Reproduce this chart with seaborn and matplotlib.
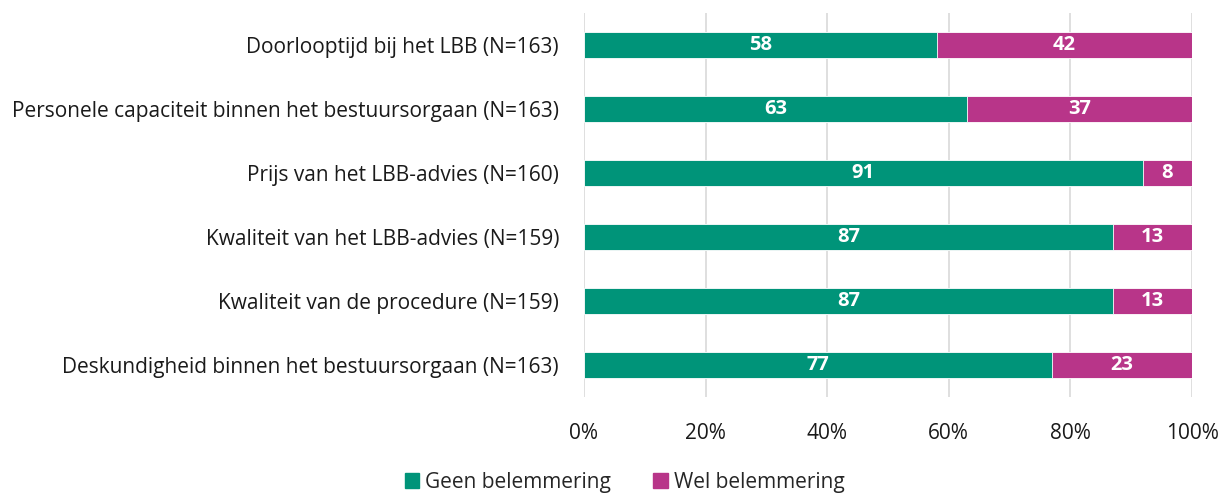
import pandas as pd
import seaborn as sns
import matplotlib.pyplot as plt
from matplotlib.patches import Patch

# data
categories = [
    "Doorlooptijd bij het LBB (N=163)",
    "Personele capaciteit binnen het bestuursorgaan (N=163)",
    "Prijs van het LBB-advies (N=160)",
    "Kwaliteit van het LBB-advies (N=159)",
    "Kwaliteit van de procedure (N=159)",
    "Deskundigheid binnen het bestuursorgaan (N=163)",
]
geen = [58, 63, 91, 87, 87, 77]
wel = [42, 37, 8, 13, 13, 23]
series_names = ["Geen belemmering", "Wel belemmering"]

green = "#009479"
magenta = "#B83589"

df = pd.DataFrame({"categorie": categories, "geen": geen, "wel": wel})
# 100% stacked: share of the row total
df["totaal"] = df["geen"] + df["wel"]
df["geen_pct"] = df["geen"] / df["totaal"] * 100
df["cum_pct"] = 100.0

sns.set_style("white")
plt.rcParams["font.family"] = ["Open Sans", "DejaVu Sans"]

fig = plt.figure(figsize=(12.2, 4.94), dpi=100)
ax = fig.add_axes([584 / 1220, 1 - 397 / 494, 608 / 1220, 384 / 494])

sns.barplot(data=df, x="cum_pct", y="categorie", orient="h", color=magenta,
            width=0.4, saturation=1, ax=ax, zorder=3)
sns.barplot(data=df, x="geen_pct", y="categorie", orient="h", color=green,
            width=0.4, saturation=1, ax=ax, zorder=3)

for bar in ax.patches:
    bar.set_edgecolor("white")
    bar.set_linewidth(0.6)

# value labels
for i in range(len(df)):
    g = df["geen_pct"][i]
    ax.text(g / 2, i, str(df["geen"][i]), ha="center", va="center",
            color="white", fontsize=14.5, fontweight="bold", zorder=4)
    ax.text(g + (100 - g) / 2, i, str(df["wel"][i]), ha="center", va="center",
            color="white", fontsize=14.5, fontweight="bold", zorder=4)

ax.set_xlim(0, 100)
ax.set_ylim(5.5, -0.5)
ax.set_xticks(range(0, 101, 20))
ax.set_xticklabels([f"{t}%" for t in range(0, 101, 20)])
ax.xaxis.grid(True, color="#d9d9d9", linewidth=1.2, zorder=0)
ax.set_xlabel("")
ax.set_ylabel("")
for s in ax.spines.values():
    s.set_visible(False)
ax.tick_params(axis="x", labelsize=15, colors="#1a1a1a", length=0, pad=19)
ax.tick_params(axis="y", labelsize=15, colors="#1a1a1a", length=0, pad=18)

handles = [Patch(color=green), Patch(color=magenta)]
fig.legend(handles, series_names, loc="lower center", ncol=2, frameon=False,
           fontsize=15, bbox_to_anchor=(0.512, -0.035), handlelength=0.7,
           handleheight=0.7, handletextpad=0.3, columnspacing=2.0)

plt.savefig("out.png", dpi=100)
